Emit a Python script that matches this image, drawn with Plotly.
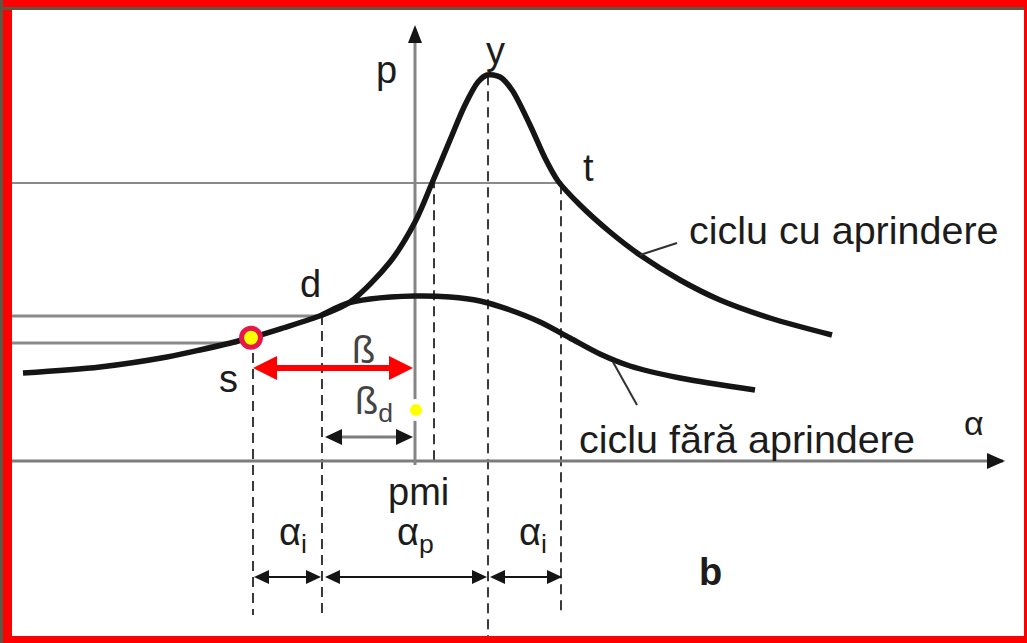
import numpy as np
import plotly.graph_objects as go

# Cylinder pressure vs. crank angle (alpha measured from pmi), diagram units
CU_ALPHA = [-392, -315, -248, -215, -165, -132, -93, -65, -25, 0, 17, 35, 50, 63,
            72, 85, 97, 115, 130, 143, 165, 195, 225, 265, 305, 355, 417]
CU_P = [88, 94, 104, 111, 123, 133, 146, 159, 199, 239, 278, 321, 356, 379,
        386, 384, 371, 336, 303, 280, 256, 229, 206, 181, 161, 143, 126]

FARA_ALPHA = [-93, -70, -45, 0, 35, 65, 95, 125, 155, 185, 215, 265, 340]
FARA_P = [146, 157, 162, 165, 164, 160, 151, 139, 123, 107, 95, 83, 71]

# characteristic crank angles: s (spark), d (pressure rise), pmi, x (level crossing), y (peak), t
KEY_NAMES = ["s", "d", "pmi", "x", "y", "t"]
KEY_ALPHA = [-162, -93, 0, 19, 73, 146]

# reference pressure levels and the angle where each level line stops
LEVEL_P = [278, 145, 118]
LEVEL_END = [146, -93, -178]

key = dict(zip(KEY_NAMES, KEY_ALPHA))

X0, X1 = -415, 612
Y0, Y1 = -182, 461
LEFT = -403

INK = "#151515"
GREY = "#7c7c7c"

fig = go.Figure()
shapes = []


def seg(a0, p0, a1, p1, color=GREY, width=2, dash=None, layer="above"):
    line = dict(color=color, width=width)
    if dash:
        line["dash"] = dash
    shapes.append(dict(type="line", xref="x", yref="y", x0=a0, y0=p0, x1=a1, y1=p1,
                       line=line, layer=layer))


def head(tip_a, tip_p, dx, dy, length, half, color=INK):
    ba, bp = tip_a - length * dx, tip_p - length * dy
    pa, pp = -dy, dx
    path = (f"M {tip_a},{tip_p} L {ba + half * pa},{bp + half * pp} "
            f"L {ba - half * pa},{bp - half * pp} Z")
    shapes.append(dict(type="path", xref="x", yref="y", path=path,
                       fillcolor=color, line=dict(width=0), layer="above"))


def dim_arrow(a0, a1, p, color=INK, line_color=INK, width=2, length=15, half=7):
    seg(a0 + length * 0.5, p, a1 - length * 0.5, p, color=line_color, width=width)
    head(a0, p, -1, 0, length, half, color)
    head(a1, p, 1, 0, length, half, color)


# frame: red border, brown edge, white drawing area
shapes.append(dict(type="rect", xref="x", yref="y", x0=LEFT, x1=609, y0=-175, y1=451,
                   fillcolor="white", line=dict(width=0), layer="below"))
shapes.append(dict(type="rect", xref="x", yref="y", x0=X0, x1=X0 + 3, y0=Y0, y1=Y1,
                   fillcolor="#5e5744", line=dict(width=0), layer="below"))
shapes.append(dict(type="rect", xref="x", yref="y", x0=X0 + 3, x1=609, y0=451, y1=454,
                   fillcolor="#5e5744", line=dict(width=0), layer="below"))

# horizontal pressure levels
for lp, le in zip(LEVEL_P, LEVEL_END):
    seg(LEFT, lp, le, lp, color="#8a8a8a", width=2 if lp == LEVEL_P[0] else 3, layer="below")

# vertical dashed projection lines
drop_names = ["s", "d", "x", "y", "t"]
drop_bottom = [-154, -154, 0, -175, -154]
for nm, bot in zip(drop_names, drop_bottom):
    a = key[nm]
    top = float(np.interp(a, CU_ALPHA, CU_P))
    seg(a, top, a, bot, color="#3a3a3a", width=2, dash="10px,6px", layer="below")

# coordinate axes (under the markers so the pmi dot can break the p axis)
seg(LEFT, 0, 588, 0, color=GREY, width=3, layer="below")
head(590, 0, 1, 0, 18, 8)
seg(0, -4, 0, 420, color="#858585", width=3, layer="below")
head(0, 436, 0, 1, 18, 7)

# beta and beta_d spans
dim_arrow(key["s"], key["pmi"] - 2, 93, color="#ff0000", line_color="#ff0000",
          width=6, length=24, half=12)
dim_arrow(key["d"] + 3, key["pmi"] - 2, 24, color=INK, line_color=GREY,
          width=3, length=17, half=8)

# alpha_i / alpha_p spans under the axis
dim_arrow(key["s"] + 1, key["d"] - 1, -116)
dim_arrow(key["d"] + 3, key["y"] - 1, -116)
dim_arrow(key["y"] + 2, key["t"] + 1, -116)

# leader lines to the curve captions
seg(225, 206, 262, 218, color="#303030", width=2)
seg(198, 99, 222, 56, color="#303030", width=2)

# pressure curves
fig.add_trace(go.Scatter(x=FARA_ALPHA, y=FARA_P, mode="lines",
                         line=dict(color=INK, width=5.5, shape="spline", smoothing=0.9),
                         hoverinfo="skip"))
fig.add_trace(go.Scatter(x=CU_ALPHA, y=CU_P, mode="lines",
                         line=dict(color=INK, width=5.5, shape="spline", smoothing=0.9),
                         hoverinfo="skip"))

# spark point s and pmi marker
s_a = key["s"] - 2
s_p = float(np.interp(s_a, CU_ALPHA, CU_P))
fig.add_trace(go.Scatter(x=[s_a], y=[s_p], mode="markers",
                         marker=dict(size=19, color="#ffff00",
                                     line=dict(color="#e8174a", width=5)),
                         hoverinfo="skip"))
fig.add_trace(go.Scatter(x=[1], y=[51], mode="markers",
                         marker=dict(size=22, color="white", line=dict(width=0)),
                         hoverinfo="skip"))
fig.add_trace(go.Scatter(x=[1], y=[51], mode="markers",
                         marker=dict(size=12, color="#ffff00", line=dict(width=0)),
                         hoverinfo="skip"))

FONT = "Liberation Sans, Arial, sans-serif"
annotations = []


def label(text, a, p, size=38, xanchor="center", color="#1c1c1c"):
    annotations.append(dict(x=a, y=p, xref="x", yref="y", text=text, showarrow=False,
                            xanchor=xanchor, yanchor="middle",
                            font=dict(family=FONT, size=size, color=color)))


label("p", -29, 391)
label("y", 80, 410)
label("t", 173, 293)
label("d", -105, 177)
label("s", -187, 82)
label("ß", -52, 111, color="#444444")
label("ß<sub>d</sub>", -62, 57, xanchor="left", color="#444444")
label("pmi", 3, -31)
label("α<sub>p</sub>", -20, -74, xanchor="left")
label("α<sub>i</sub>", -138, -74, xanchor="left")
label("α<sub>i</sub>", 102, -74, xanchor="left")
label("<b>b</b>", 295, -111)
label("α", 559, 38, size=34)
label("ciclu cu aprindere", 272, 231, size=39.5, xanchor="left")
label("ciclu fără aprindere", 162, 22, size=39.5, xanchor="left")

fig.update_layout(
    width=1027, height=643, autosize=False,
    margin=dict(l=0, r=0, t=0, b=0, pad=0),
    paper_bgcolor="#ff0000", plot_bgcolor="#ff0000",
    showlegend=False,
    xaxis=dict(range=[X0, X1], visible=False, fixedrange=True),
    yaxis=dict(range=[Y0, Y1], visible=False, fixedrange=True),
    shapes=shapes, annotations=annotations,
)

fig.write_html("out.html", config={"displayModeBar": False})
